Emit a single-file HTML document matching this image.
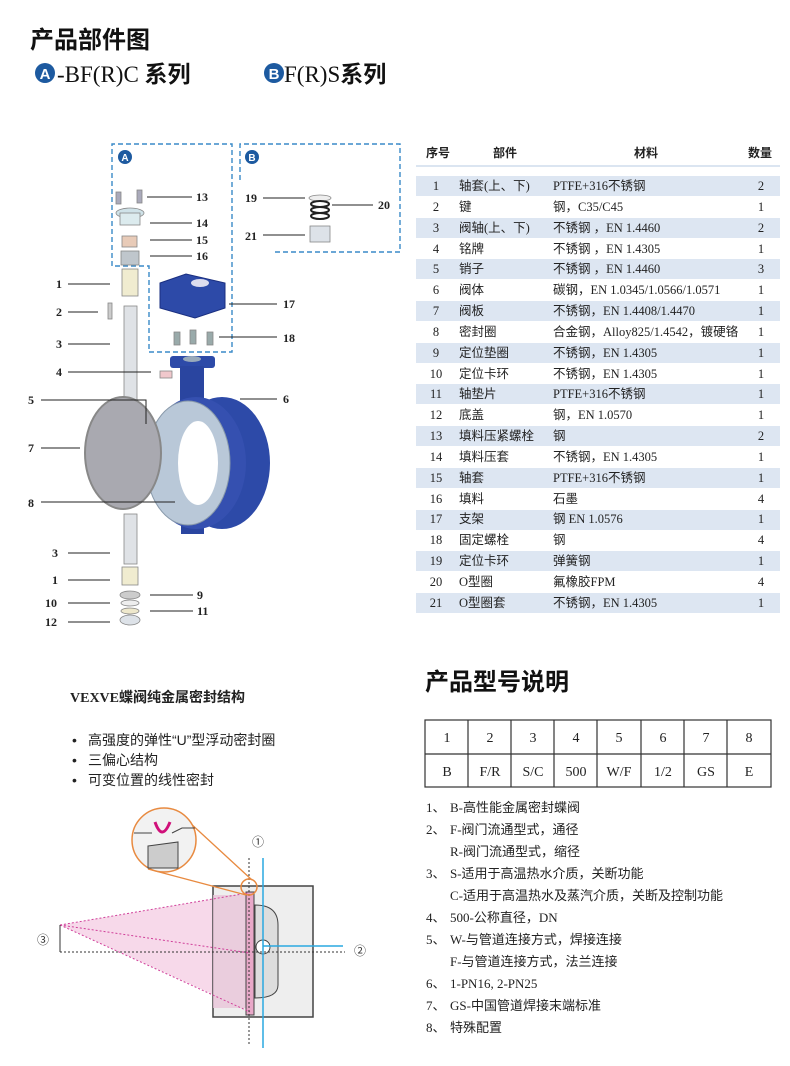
<!DOCTYPE html>
<html><head><meta charset="utf-8"><style>
html,body{margin:0;padding:0;background:#fff;}
svg{display:block;}
.s{font-family:"Liberation Serif","Noto Sans CJK SC",serif;}
.c{font-family:"Liberation Sans","Noto Sans CJK SC",sans-serif;}
</style></head><body>
<svg width="790" height="1066" viewBox="0 0 790 1066" xmlns="http://www.w3.org/2000/svg">
<text x="30" y="48" class="c" font-size="24" font-weight="bold" fill="#111">产品部件图</text>
<circle cx="45" cy="73" r="10" fill="#1d5aa0"/>
<text x="45" y="79" class="c" font-size="15" font-weight="bold" fill="#fff" text-anchor="middle">A</text>
<text x="57" y="82" class="s" font-size="23" fill="#111">-BF(R)C <tspan class="c" font-weight="bold">系列</tspan></text>
<circle cx="274" cy="73" r="10" fill="#1d5aa0"/>
<text x="274" y="79" class="c" font-size="15" font-weight="bold" fill="#fff" text-anchor="middle">B</text>
<text x="284" y="82" class="s" font-size="23" fill="#111">F(R)S<tspan class="c" font-weight="bold">系列</tspan></text>

<g fill="none" stroke="#3a8ac8" stroke-width="1.4" stroke-dasharray="5,3">
<path d="M112,266 V144 H232 V352 H149 V266 Z"/>
<path d="M240,180 V144 H400 V252 H272"/>
</g>
<circle cx="125" cy="157" r="7" fill="#1d5aa0"/><text x="125" y="161" class="c" font-size="10" font-weight="bold" fill="#fff" text-anchor="middle">A</text>
<circle cx="252" cy="157" r="7" fill="#1d5aa0"/><text x="252" y="161" class="c" font-size="10" font-weight="bold" fill="#fff" text-anchor="middle">B</text>

<g stroke="#888" stroke-width="0.8">
<rect x="116" y="192" width="5" height="12" fill="#aab"/><rect x="137" y="190" width="5" height="13" fill="#aab"/>
<ellipse cx="130" cy="213" rx="14" ry="5" fill="#cfe2e8"/><rect x="120" y="213" width="20" height="12" fill="#dcebee"/>
<rect x="122" y="236" width="15" height="11" fill="#e8cbb8"/>
<rect x="121" y="251" width="18" height="14" fill="#bfc6cc"/>
<rect x="122" y="269" width="16" height="27" fill="#f0ecd0"/>
<rect x="108" y="303" width="4" height="16" fill="#ccc"/>
<rect x="124" y="306" width="13" height="112" fill="#dfe2e6"/>
<rect x="160" y="371" width="12" height="7" fill="#f0c8cc"/>
<rect x="124" y="514" width="13" height="50" fill="#dfe2e6"/>
<rect x="122" y="567" width="16" height="18" fill="#f0ecd0"/>
<ellipse cx="130" cy="595" rx="10" ry="4" fill="#ccc"/>
<ellipse cx="130" cy="603" rx="9" ry="3" fill="#eee"/>
<ellipse cx="130" cy="611" rx="9" ry="3" fill="#eee8cc"/>
<ellipse cx="130" cy="620" rx="10" ry="5" fill="#dde2e8"/>
<ellipse cx="320" cy="198" rx="11" ry="3" fill="#eee"/>
<ellipse cx="320" cy="204" rx="9" ry="3" fill="none" stroke="#222" stroke-width="2"/>
<ellipse cx="320" cy="210" rx="9" ry="3" fill="none" stroke="#222" stroke-width="2"/>
<ellipse cx="320" cy="216" rx="9" ry="3" fill="none" stroke="#222" stroke-width="2"/>
<rect x="310" y="226" width="20" height="16" fill="#dde2e8"/>
<rect x="174" y="332" width="6" height="13" fill="#9aa"/><rect x="190" y="330" width="6" height="14" fill="#9aa"/><rect x="207" y="332" width="6" height="13" fill="#9aa"/>
</g>
<polygon points="160,283 186,274 225,283 225,308 195,318 160,308" fill="#2d4aa8" stroke="#1a2f80"/>
<ellipse cx="200" cy="283" rx="9" ry="4" fill="#dde"/>
<rect x="170" y="356" width="45" height="12" rx="3" fill="#2d4aa8"/>
<ellipse cx="192" cy="359" rx="9" ry="3" fill="#9ab"/>
<rect x="180" y="366" width="24" height="40" fill="#2a45a0"/>
<rect x="181" y="500" width="23" height="34" fill="#2a45a0"/>
<ellipse cx="222" cy="463" rx="48" ry="66" fill="#2d4aa8"/>
<ellipse cx="196" cy="463" rx="50" ry="66" fill="#3550b0"/>
<ellipse cx="188" cy="463" rx="42" ry="62" fill="#b9c8d8" stroke="#8899aa"/>
<ellipse cx="198" cy="463" rx="20" ry="42" fill="#fff"/>
<ellipse cx="123" cy="453" rx="38" ry="56" fill="#a9a9b0" stroke="#888" stroke-width="2"/>

<g stroke="#222" stroke-width="1" fill="none">
<path d="M147,197 H192 M150,223 H192 M150,240 H192 M150,256 H192"/>
<path d="M68,284 H110 M68,312 H98 M68,344 H110 M68,372 H151"/>
<path d="M41,400 H146 V424 M41,448 H80 M41,502 H175"/>
<path d="M240,399 H277 M229,304 H277 M219,337 H277"/>
<path d="M68,553 H110 M68,580 H110 M68,603 H110 M68,622 H110 M150,595 H193 M150,611 H193"/>
<path d="M263,198 H305 M263,235 H305 M332,205 H373"/>
</g>
<g class="s" font-size="12" font-weight="bold" fill="#222">
<text x="196" y="201">13</text><text x="196" y="227">14</text><text x="196" y="244">15</text><text x="196" y="260">16</text>
<text x="56" y="288">1</text><text x="56" y="316">2</text><text x="56" y="348">3</text><text x="56" y="376">4</text>
<text x="28" y="404">5</text><text x="28" y="452">7</text><text x="28" y="507">8</text>
<text x="283" y="403">6</text><text x="283" y="308">17</text><text x="283" y="342">18</text>
<text x="52" y="557">3</text><text x="52" y="584">1</text><text x="45" y="607">10</text><text x="45" y="626">12</text>
<text x="197" y="599">9</text><text x="197" y="615">11</text>
<text x="245" y="202">19</text><text x="245" y="240">21</text><text x="378" y="209">20</text>
</g>

<g class="c" font-size="12" font-weight="bold" fill="#222">
<text x="438" y="157" text-anchor="middle">序号</text>
<text x="505" y="157" text-anchor="middle">部件</text>
<text x="646" y="157" text-anchor="middle">材料</text>
<text x="760" y="157" text-anchor="middle">数量</text>
</g>
<rect x="416" y="165" width="364" height="2" fill="#dbe5f1"/>
<g fill="#dde6f2">
<rect x="416" y="176" width="364" height="20"/><rect x="416" y="218" width="364" height="20"/><rect x="416" y="259" width="364" height="20"/><rect x="416" y="301" width="364" height="20"/><rect x="416" y="343" width="364" height="20"/><rect x="416" y="384" width="364" height="20"/><rect x="416" y="426" width="364" height="20"/><rect x="416" y="468" width="364" height="20"/><rect x="416" y="510" width="364" height="20"/><rect x="416" y="551" width="364" height="20"/><rect x="416" y="593" width="364" height="20"/>
</g>
<g class="s" font-size="12.5" fill="#222">
<g text-anchor="middle">
<text x="436" y="190">1</text><text x="436" y="211">2</text><text x="436" y="232">3</text><text x="436" y="253">4</text><text x="436" y="273">5</text><text x="436" y="294">6</text><text x="436" y="315">7</text><text x="436" y="336">8</text><text x="436" y="357">9</text><text x="436" y="378">10</text><text x="436" y="398">11</text><text x="436" y="419">12</text><text x="436" y="440">13</text><text x="436" y="461">14</text><text x="436" y="482">15</text><text x="436" y="503">16</text><text x="436" y="523">17</text><text x="436" y="544">18</text><text x="436" y="565">19</text><text x="436" y="586">20</text><text x="436" y="607">21</text>
<text x="761" y="190">2</text><text x="761" y="211">1</text><text x="761" y="232">2</text><text x="761" y="253">1</text><text x="761" y="273">3</text><text x="761" y="294">1</text><text x="761" y="315">1</text><text x="761" y="336">1</text><text x="761" y="357">1</text><text x="761" y="378">1</text><text x="761" y="398">1</text><text x="761" y="419">1</text><text x="761" y="440">2</text><text x="761" y="461">1</text><text x="761" y="482">1</text><text x="761" y="503">4</text><text x="761" y="523">1</text><text x="761" y="544">4</text><text x="761" y="565">1</text><text x="761" y="586">4</text><text x="761" y="607">1</text>
</g>
<text x="459" y="190">轴套(上、下)</text><text x="459" y="211">键</text><text x="459" y="232">阀轴(上、下)</text><text x="459" y="253">铭牌</text><text x="459" y="273">销子</text><text x="459" y="294">阀体</text><text x="459" y="315">阀板</text><text x="459" y="336">密封圈</text><text x="459" y="357">定位垫圈</text><text x="459" y="378">定位卡环</text><text x="459" y="398">轴垫片</text><text x="459" y="419">底盖</text><text x="459" y="440">填料压紧螺栓</text><text x="459" y="461">填料压套</text><text x="459" y="482">轴套</text><text x="459" y="503">填料</text><text x="459" y="523">支架</text><text x="459" y="544">固定螺栓</text><text x="459" y="565">定位卡环</text><text x="459" y="586">O型圈</text><text x="459" y="607">O型圈套</text>
<text x="553" y="190">PTFE+316不锈钢</text><text x="553" y="211">钢，C35/C45</text><text x="553" y="232">不锈钢 ，EN 1.4460</text><text x="553" y="253">不锈钢 ，EN 1.4305</text><text x="553" y="273">不锈钢 ，EN 1.4460</text><text x="553" y="294">碳钢，EN 1.0345/1.0566/1.0571</text><text x="553" y="315">不锈钢，EN 1.4408/1.4470</text><text x="553" y="336">合金钢，Alloy825/1.4542，镀硬铬</text><text x="553" y="357">不锈钢，EN 1.4305</text><text x="553" y="378">不锈钢，EN 1.4305</text><text x="553" y="398">PTFE+316不锈钢</text><text x="553" y="419">钢，EN 1.0570</text><text x="553" y="440">钢</text><text x="553" y="461">不锈钢，EN 1.4305</text><text x="553" y="482">PTFE+316不锈钢</text><text x="553" y="503">石墨</text><text x="553" y="523">钢 EN 1.0576</text><text x="553" y="544">钢</text><text x="553" y="565">弹簧钢</text><text x="553" y="586">氟橡胶FPM</text><text x="553" y="607">不锈钢，EN 1.4305</text>
</g>

<text x="70" y="702" class="s" font-size="14" font-weight="bold" fill="#222">VEXVE<tspan class="c">蝶阀纯金属密封结构</tspan></text>
<g class="c" font-size="14" fill="#222">
<text x="72" y="745">•</text><text x="88" y="745">高强度的弹性“U”型浮动密封圈</text>
<text x="72" y="765">•</text><text x="88" y="765">三偏心结构</text>
<text x="72" y="785">•</text><text x="88" y="785">可变位置的线性密封</text>
</g>

<polygon points="60,925 248,893 252,1012" fill="#f7d9ea"/>
<rect x="213" y="886" width="100" height="131" fill="#eee" stroke="#444" stroke-width="1.5"/>
<rect x="213" y="895" width="36" height="113" fill="#e8c4d8" opacity="0.8"/>
<path d="M255,905 Q278,905 278,925 V985 Q278,998 255,998 Z" fill="#ddd" stroke="#444"/>
<circle cx="263" cy="947" r="7" fill="#fff" stroke="#444"/>
<rect x="246" y="892" width="8" height="123" fill="#e8a8c8" stroke="#444"/>
<g stroke="#d0409a" stroke-width="1" stroke-dasharray="2,2" fill="none">
<path d="M60,925 L248,893 M60,925 L250,953 M60,925 L250,1012"/>
</g>
<path d="M60,925 V952" stroke="#333"/>
<path d="M60,952 H345" stroke="#333" stroke-dasharray="2,2"/>
<path d="M249,858 V1045" stroke="#333" stroke-dasharray="2,2"/>
<path d="M263,858 V1048 M263,946 H343" stroke="#2aa8e0" stroke-width="1.5" fill="none"/>
<circle cx="249" cy="887" r="8" fill="none" stroke="#e88a40" stroke-width="1.5"/>
<path d="M148,869 L246,895 M176,810 L252,880" stroke="#e88a40" stroke-width="1.3"/>
<circle cx="164" cy="840" r="32" fill="#f2f2f2" stroke="#e88a40" stroke-width="1.5"/>
<path d="M148,846 L178,842 V868 H148 Z" fill="#ccc" stroke="#444"/>
<path d="M155,822 Q162,842 170,822" stroke="#d0107a" stroke-width="3" fill="none"/>
<path d="M134,833 H152 M172,833 L182,828 H195" stroke="#444" fill="none"/>
<g class="c" font-size="12" fill="#333">
<text x="252" y="846">①</text><text x="354" y="955">②</text><text x="37" y="944">③</text>
</g>

<text x="425" y="690" class="c" font-size="24" font-weight="bold" fill="#111">产品型号说明</text>
<g stroke="#333" stroke-width="1.2" fill="none">
<rect x="425" y="720" width="346" height="67"/>
<path d="M425,754 H771 M468,720 V787 M511,720 V787 M554,720 V787 M597,720 V787 M641,720 V787 M684,720 V787 M727,720 V787"/>
</g>
<g class="s" font-size="14" fill="#222" text-anchor="middle">
<text x="447" y="742">1</text><text x="490" y="742">2</text><text x="533" y="742">3</text><text x="576" y="742">4</text><text x="619" y="742">5</text><text x="663" y="742">6</text><text x="706" y="742">7</text><text x="749" y="742">8</text>
<text x="447" y="776">B</text><text x="490" y="776">F/R</text><text x="533" y="776">S/C</text><text x="576" y="776">500</text><text x="619" y="776">W/F</text><text x="663" y="776">1/2</text><text x="706" y="776">GS</text><text x="749" y="776">E</text>
</g>
<g class="s" font-size="13" fill="#222">
<text x="426" y="812">1、</text><text x="450" y="812">B-高性能金属密封蝶阀</text>
<text x="426" y="834">2、</text><text x="450" y="834">F-阀门流通型式，通径</text>
<text x="450" y="856">R-阀门流通型式，缩径</text>
<text x="426" y="878">3、</text><text x="450" y="878">S-适用于高温热水介质，关断功能</text>
<text x="450" y="900">C-适用于高温热水及蒸汽介质，关断及控制功能</text>
<text x="426" y="922">4、</text><text x="450" y="922">500-公称直径，DN</text>
<text x="426" y="944">5、</text><text x="450" y="944">W-与管道连接方式，焊接连接</text>
<text x="450" y="966">F-与管道连接方式，法兰连接</text>
<text x="426" y="988">6、</text><text x="450" y="988">1-PN16, 2-PN25</text>
<text x="426" y="1010">7、</text><text x="450" y="1010">GS-中国管道焊接末端标准</text>
<text x="426" y="1032">8、</text><text x="450" y="1032">特殊配置</text>
</g>
</svg>
</body></html>
